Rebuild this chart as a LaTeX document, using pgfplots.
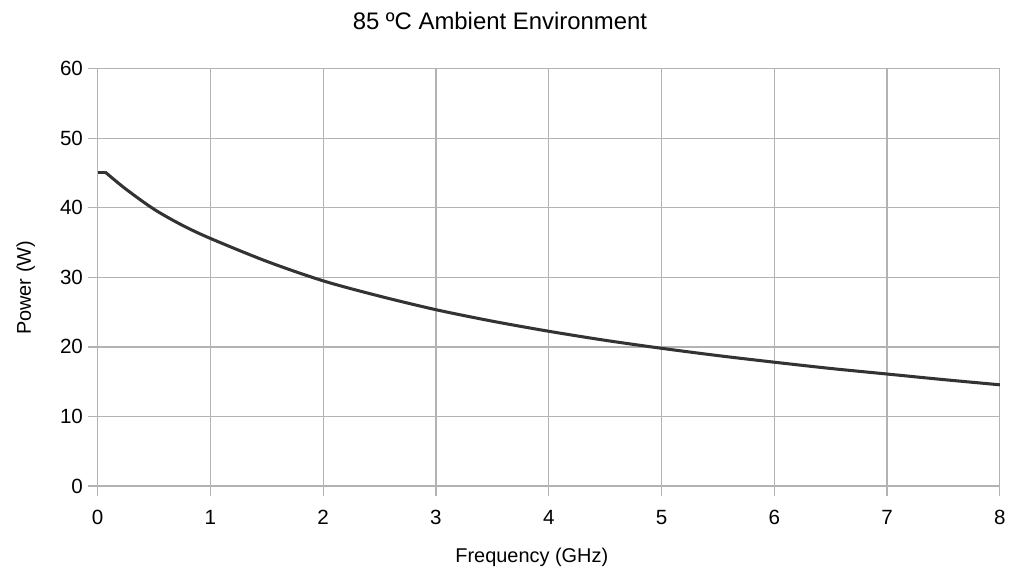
\documentclass[border=0pt]{standalone}
\usepackage{fontspec}
\setmainfont{Liberation Sans}
\usepackage{pgfplots}
\pgfplotsset{compat=1.18}
\definecolor{gridc}{RGB}{179,179,179}
\definecolor{linec}{RGB}{51,51,51}
\begin{document}
\begin{tikzpicture}
\begin{axis}[
  name=ax, at={(0pt,0pt)}, anchor=south west,
  scale only axis, width=679.5pt, height=314.25pt,
  xmin=0, xmax=8, ymin=0, ymax=60,
  xtick={0,1,...,8}, ytick={0,10,...,60},
  grid=major,
  major grid style={gridc, line width=0.9pt},
  axis line style={gridc, line width=0.9pt},
  tick style={gridc, line width=0.9pt},
  tick align=outside, major tick length=7.5pt,
  xtick pos=bottom, ytick pos=left,
  /pgf/number format/assume math mode=true,
  ticklabel style={font=\fontsize{15.5}{17}\selectfont, text=black},
  xticklabel style={yshift=-7pt},
]
\addplot[linec, line width=2.3pt] coordinates {(0,45.1) (0.07,45.1)};
\addplot[linec, line width=2.3pt, line cap=round, smooth, tension=0.5] coordinates {
(0.07,45.1) (0.25,42.7) (0.5,39.8) (0.75,37.5) (1,35.6) (1.5,32.3)
(2,29.5) (2.5,27.3) (3,25.35) (3.5,23.7) (4,22.25) (4.5,20.95) (5,19.8)
(5.5,18.75) (6,17.8) (6.5,16.9) (7,16.1) (7.5,15.3) (8,14.55)};
\end{axis}
\path[use as bounding box] ([xshift=-73.5pt,yshift=-60.75pt]ax.south west) rectangle ([xshift=684pt,yshift=366pt]ax.south west);
\node[font=\fontsize{18}{20}\selectfont, anchor=base, inner sep=0pt] at ([xshift=303pt,yshift=343.875pt]ax.south west) {85 ºC Ambient Environment};
\node[font=\fontsize{15}{17}\selectfont, anchor=base, inner sep=0pt] at ([xshift=327pt,yshift=-57.75pt]ax.south west) {Frequency (GHz)};
\node[font=\fontsize{15}{17}\selectfont, rotate=90, anchor=base, inner sep=0pt] at ([xshift=-50.25pt,yshift=149.25pt]ax.south west) {Power (W)};
\end{tikzpicture}
\end{document}
